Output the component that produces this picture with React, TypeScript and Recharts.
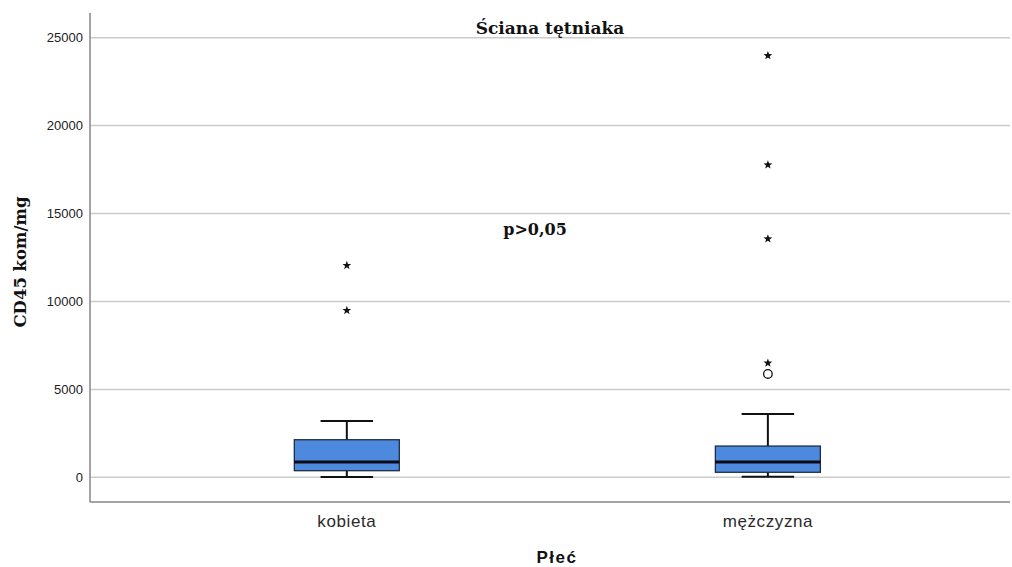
import React from 'react';
import { ComposedChart, Bar, Scatter, XAxis, YAxis, CartesianGrid } from 'recharts';

// groups and their box plot summary (CD45 kom/mg)
const categories = ['kobieta', 'mężczyzna'];
const whiskerLow = [20, 40];
const q1 = [380, 290];
const median = [880, 880];
const q3 = [2140, 1780];
const whiskerHigh = [3200, 3600];

// extreme values (stars) and outliers (circles)
const extremes = [
  [12050, 9490],
  [23980, 17770, 13560, 6500],
];
const outliers = [[], [5880]];

const yTicks = [0, 5000, 10000, 15000, 20000, 25000];

const boxData = categories.map((name, i) => ({
  pos: i + 1,
  name,
  range: [whiskerLow[i], whiskerHigh[i]],
  q1: q1[i],
  median: median[i],
  q3: q3[i],
}));

const extremeData = categories.flatMap((name, i) =>
  extremes[i].map((v) => ({ pos: i + 1, value: v }))
);
const outlierData = categories.flatMap((name, i) =>
  outliers[i].map((v) => ({ pos: i + 1, value: v }))
);

const BoxShape = (props: any) => {
  const { x, y, width, height, payload } = props;
  const [lo, hi] = payload.range;
  const toY = (v: number) => y + (height * (hi - v)) / (hi - lo);
  const cx = x + width / 2;
  const cap = width / 4;
  return (
    <g>
      <line x1={cx} x2={cx} y1={toY(hi)} y2={toY(lo)} stroke="#111" strokeWidth={2} />
      <line x1={cx - cap} x2={cx + cap} y1={toY(hi)} y2={toY(hi)} stroke="#111" strokeWidth={2} />
      <line x1={cx - cap} x2={cx + cap} y1={toY(lo)} y2={toY(lo)} stroke="#111" strokeWidth={2} />
      <rect
        x={x}
        y={toY(payload.q3)}
        width={width}
        height={toY(payload.q1) - toY(payload.q3)}
        fill="#4d8ade"
        stroke="#1e2d44"
        strokeWidth={1.3}
      />
      <line
        x1={x}
        x2={x + width}
        y1={toY(payload.median)}
        y2={toY(payload.median)}
        stroke="#0a0a14"
        strokeWidth={3}
      />
    </g>
  );
};

const StarShape = (props: any) => {
  const { cx, cy } = props;
  const pts: string[] = [];
  for (let k = 0; k < 10; k++) {
    const r = k % 2 === 0 ? 4.6 : 1.9;
    const a = -Math.PI / 2 + (k * Math.PI) / 5;
    pts.push(`${cx + r * Math.cos(a)},${cy + r * Math.sin(a)}`);
  }
  return <polygon points={pts.join(' ')} fill="#111" />;
};

const CircleShape = (props: any) => {
  const { cx, cy } = props;
  return <circle cx={cx} cy={cy} r={4.3} fill="#fff" stroke="#111" strokeWidth={1.3} />;
};

const serif = '"DejaVu Serif", serif';
const sans = '"Liberation Sans", Arial, sans-serif';

export default function App() {
  return (
    <div style={{ position: 'absolute', left: 0, top: 0, width: 1012, height: 567, background: '#fff' }}>
      <ComposedChart
        width={1012}
        height={567}
        data={boxData}
        margin={{ top: 13, right: 2, bottom: 0, left: 0 }}
      >
        <CartesianGrid
          vertical={false}
          horizontalValues={yTicks}
          stroke="#cbcbcb"
          strokeWidth={1.5}
          syncWithTicks={false}
        />
        <XAxis
          dataKey="pos"
          type="number"
          domain={[0.39, 2.575]}
          allowDataOverflow
          ticks={[1, 2]}
          tickFormatter={(v: number) => categories[v - 1] ?? ''}
          height={65}
          axisLine={{ stroke: '#868686', strokeWidth: 1.5 }}
          tickLine={false}
          tickSize={6}
          tickMargin={7}
          tick={{ fontFamily: sans, fontSize: 17, fill: '#2a2a2a', letterSpacing: 0.6 }}
        />
        <YAxis
          type="number"
          domain={[-1400, 26400]}
          allowDataOverflow
          ticks={yTicks}
          width={90}
          axisLine={{ stroke: '#868686', strokeWidth: 1.5 }}
          tickLine={false}
          tickSize={5}
          tickMargin={2}
          tick={{ fontFamily: sans, fontSize: 13, fill: '#222' }}
        />
        <Bar dataKey="range" barSize={105} shape={BoxShape} isAnimationActive={false} />
        <Scatter data={extremeData} dataKey="value" shape={StarShape} isAnimationActive={false} />
        <Scatter data={outlierData} dataKey="value" shape={CircleShape} isAnimationActive={false} />
      </ComposedChart>
      <svg
        width={1012}
        height={567}
        style={{ position: 'absolute', left: 0, top: 0, pointerEvents: 'none' }}
      >
        <text x={550} y={33.5} textAnchor="middle" fontFamily={serif} fontWeight="bold" fontSize={17} fill="#111">
          Ściana tętniaka
        </text>
        <text x={535} y={235} textAnchor="middle" fontFamily={serif} fontWeight="bold" fontSize={16} fill="#111">
          p&gt;0,05
        </text>
        <text
          transform="translate(26,262) rotate(-90)"
          textAnchor="middle"
          fontFamily={serif}
          fontWeight="bold"
          fontSize={16.5}
          fill="#111"
        >
          CD45 kom/mg
        </text>
        <text x={557} y={563} textAnchor="middle" fontFamily={sans} fontWeight="bold" fontSize={17} letterSpacing={1.5} fill="#111">
          Płeć
        </text>
      </svg>
    </div>
  );
}
